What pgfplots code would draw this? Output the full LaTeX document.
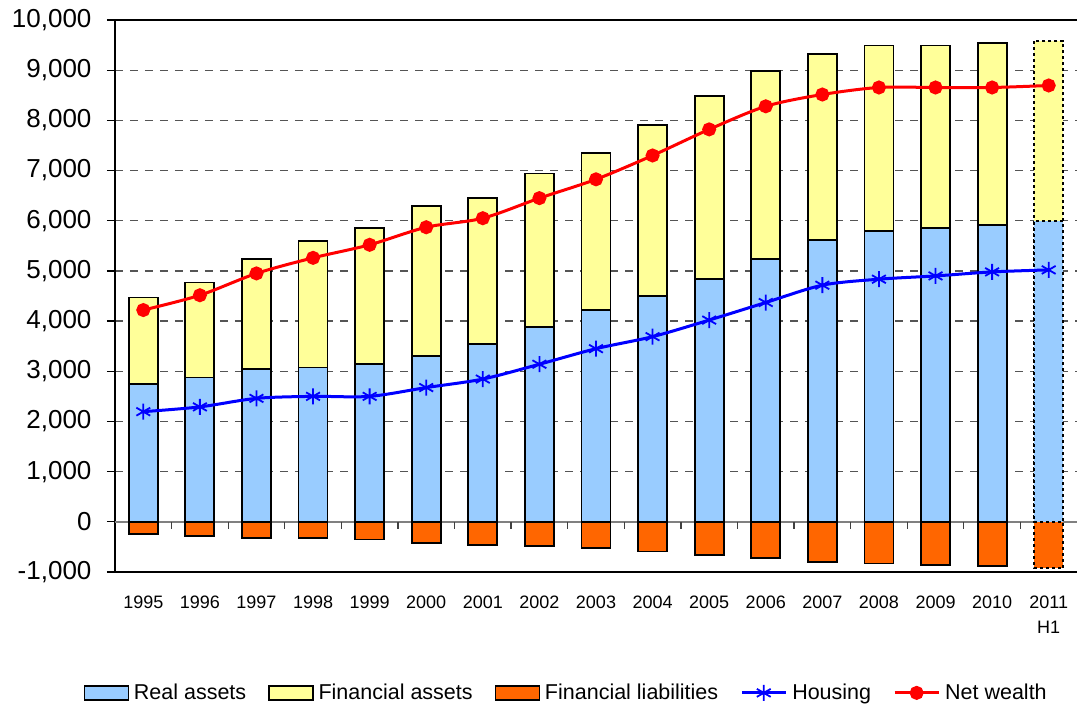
\documentclass[border=0pt]{standalone}
\usepackage{pgfplots}
\pgfplotsset{compat=1.18}
\usepackage{fontspec}
\setmainfont{Liberation Sans}

\definecolor{realc}{HTML}{99CCFF}
\definecolor{finc}{HTML}{FFFF99}
\definecolor{liabc}{HTML}{FF6600}
\definecolor{gridc}{HTML}{555555}

\pgfplotsset{
    boxlegend/.style={
        legend image code/.code={\draw[##1] (0pt,-7pt) rectangle (44pt,7pt);}
    },
}

\begin{document}
\begin{tikzpicture}
\useasboundingbox (-115pt,-137pt) rectangle (962pt,572pt);
\begin{axis}[
    at={(0pt,0pt)}, anchor=south west,
    scale only axis,
    width=962pt, height=552pt,
    xmin=-0.5, xmax=16.5,
    ymin=-1000, ymax=10000,
    ytick={-1000,0,1000,2000,3000,4000,5000,6000,7000,8000,9000,10000},
    scaled y ticks=false,
    xtick={0,...,16},
    xticklabels={1995,1996,1997,1998,1999,2000,2001,2002,2003,2004,2005,2006,2007,2008,2009,2010,{2011\\H1}},
    xticklabel style={align=center, font=\fontsize{18}{25}\selectfont, yshift=-12pt},
    yticklabel style={font=\fontsize{26}{30}\selectfont, xshift=-12pt},
    /pgf/number format/assume math mode=true,
    /pgf/number format/1000 sep={,},
    axis x line*=box,
    axis y line*=left,
    axis line style={black, line width=1.5pt},
    tick align=outside,
    x tick style={draw=none},
    y tick style={black, line width=1.3pt},
    major tick length=8pt,
    ymajorgrids,
    major grid style={gridc, line width=1.3pt, dash pattern=on 8pt off 7pt},
    legend columns=-1,
    legend style={
        draw=none,
        at={(0.469,-0.219)}, anchor=center,
        font=\fontsize{21.5}{25}\selectfont,
        /tikz/every even column/.append style={column sep=20pt},
        /tikz/every odd column/.append style={column sep=3pt},
    },
    legend image code/.code={
        \draw[mark repeat=2, mark phase=2, #1] plot coordinates {(0pt,0pt) (22pt,0pt) (44pt,0pt)};
    },
]

% zero line
\draw[gray, line width=1.6pt] (axis cs:-0.5,0) -- (axis cs:16.5,0);

% legend entries for the bars
\addlegendimage{boxlegend, fill=realc, draw=black, line width=1.3pt}
\addlegendimage{boxlegend, fill=finc, draw=black, line width=1.3pt}
\addlegendimage{boxlegend, fill=liabc, draw=black, line width=1.3pt}

% real + financial assets (bar top)
\addplot[ybar, bar width=29pt, bar shift=0pt, fill=finc, draw=black, line width=1.8pt, forget plot]
coordinates {
(0,4470) (1,4770) (2,5240) (3,5590) (4,5850) (5,6290) (6,6450) (7,6940)
(8,7350) (9,7900) (10,8480) (11,8980) (12,9315) (13,9490) (14,9490) (15,9540)
};
% real assets
\addplot[ybar, bar width=29pt, bar shift=0pt, fill=realc, draw=black, line width=1.8pt, forget plot]
coordinates {
(0,2740) (1,2875) (2,3040) (3,3075) (4,3145) (5,3310) (6,3550) (7,3885)
(8,4225) (9,4505) (10,4840) (11,5245) (12,5620) (13,5790) (14,5855) (15,5920)
};
% financial liabilities
\addplot[ybar, bar width=29pt, bar shift=0pt, fill=liabc, draw=black, line width=1.8pt, forget plot]
coordinates {
(0,-250) (1,-285) (2,-318) (3,-320) (4,-352) (5,-424) (6,-464) (7,-488)
(8,-517) (9,-590) (10,-656) (11,-723) (12,-796) (13,-829) (14,-862) (15,-876)
};

% 2011 H1 (dotted outline)
\addplot[ybar, bar width=29pt, bar shift=0pt, fill=finc, draw=black, line width=2pt,
    dash pattern=on 3pt off 3pt, forget plot] coordinates {(16,9590)};
\addplot[ybar, bar width=29pt, bar shift=0pt, fill=realc, draw=black, line width=2pt,
    dash pattern=on 3pt off 3pt, forget plot] coordinates {(16,5995)};
\addplot[ybar, bar width=29pt, bar shift=0pt, fill=liabc, draw=black, line width=2pt,
    dash pattern=on 3pt off 3pt, forget plot] coordinates {(16,-930)};

% category separators on the zero line
\pgfplotsinvokeforeach{0.5,1.5,...,15.5}{
    \draw[black!75, line width=1.3pt] (axis cs:#1,0) -- ++(0pt,-7pt);
}

% housing
\addplot[blue, line width=3pt, smooth, mark=asterisk, mark size=8pt,
    mark options={solid, line width=1.8pt}]
coordinates {
(0,2195) (1,2290) (2,2460) (3,2500) (4,2500) (5,2675) (6,2845) (7,3140)
(8,3450) (9,3690) (10,4020) (11,4370) (12,4715) (13,4835) (14,4900) (15,4980) (16,5020)
};
% net wealth
\addplot[red, line width=3pt, smooth, mark=*, mark size=5.5pt,
    mark options={solid, fill=red, draw=red}]
coordinates {
(0,4220) (1,4515) (2,4950) (3,5260) (4,5520) (5,5870) (6,6050) (7,6450)
(8,6825) (9,7300) (10,7820) (11,8280) (12,8515) (13,8655) (14,8655) (15,8655) (16,8695)
};

\legend{Real assets, Financial assets, Financial liabilities, Housing, Net wealth}
\end{axis}
\end{tikzpicture}
\end{document}
